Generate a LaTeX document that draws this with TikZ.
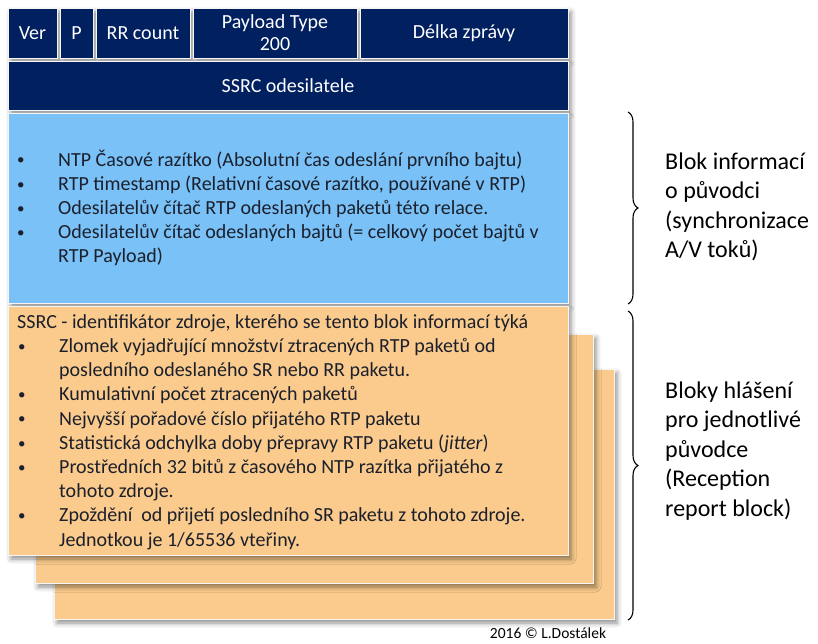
\documentclass[tikz,border=0pt]{standalone}
\usepackage{fontspec}
\setmainfont{Carlito}
\usetikzlibrary{shadows.blur,decorations.pathreplacing}
\definecolor{navy}{RGB}{0,32,96}
\definecolor{skyfill}{RGB}{121,193,246}
\definecolor{sandfill}{RGB}{250,203,140}
\definecolor{bodyink}{RGB}{28,32,44}
% bullet with hanging indent
\newcommand\bitem{\makebox[42pt][l]{\hspace*{1pt}\raisebox{1.2pt}{\fontsize{15}{15}\selectfont\textbullet}}}
\newcommand\bcont{\hspace*{42pt}}
\begin{document}
\begin{tikzpicture}[x=1pt,y=-1pt,
  softshadow/.style={blur shadow={shadow xshift=3pt, shadow yshift=-4pt,
      shadow blur radius=5pt, shadow opacity=45}},
  field/.style={fill=navy, draw=white!92!gray, line width=0.8pt, text=white,
      inner sep=0pt, align=center, softshadow,
      font=\fontsize{20}{22}\selectfont},
  panel/.style={draw=white!92!gray, line width=0.8pt, inner sep=0pt, softshadow},
  bodytext/.style={anchor=west, align=left, text=bodyink, inner sep=0pt,
      font=\fontsize{20}{24.2}\selectfont},
  sidetext/.style={anchor=west, align=left, text=black, inner sep=0pt,
      font=\fontsize{24}{29.5}\selectfont},
  bracket/.style={decorate, decoration={brace, amplitude=10pt}, line width=1.1pt}
]
\useasboundingbox (0,0) rectangle (818,643);

% header fields
\node[field, minimum width=49pt, minimum height=50pt] (ver)  at (32.5,33) {Ver};
\node[field, minimum width=33pt, minimum height=50pt] (pbit) at (76.5,33) {P};
\node[field, minimum width=94pt, minimum height=50pt] (rrc)  at (143,33)  {RR count};
\node[field, minimum width=164pt, minimum height=50pt] (ptype) at (275,33) {Payload Type\\200};
\node[field, minimum width=208pt, minimum height=50pt] (len)  at (464,33)  {Délka zprávy};
\node[field, minimum width=560pt, minimum height=49pt] (ssrc) at (288,85.5) {SSRC odesilatele};

% sender information block
\node[panel, fill=skyfill, minimum width=560pt, minimum height=190pt] (sender) at (288,208) {};
\node[bodytext] (sendertext) at (16,208) {%
\bitem NTP Časové razítko (Absolutní čas odeslání prvního bajtu)\\
\bitem RTP timestamp (Relativní časové razítko, používané v RTP)\\
\bitem Odesilatelův čítač RTP odeslaných paketů této relace.\\
\bitem Odesilatelův čítač odeslaných bajtů (= celkový počet bajtů v\\
\bcont RTP Payload)};

% stacked reception report blocks
\node[panel, fill=sandfill, minimum width=560pt, minimum height=250pt] (rep3) at (334,494) {};
\node[panel, fill=sandfill, minimum width=558pt, minimum height=249pt] (rep2) at (314,458.5) {};
\node[panel, fill=sandfill, minimum width=560pt, minimum height=249pt] (rep1) at (288,430.5) {};
\node[bodytext] (reptext) at (17,432) {%
SSRC - identifikátor zdroje, kterého se tento blok informací týká\\
\bitem Zlomek vyjadřující množství ztracených RTP paketů od\\
\bcont posledního odeslaného SR nebo RR paketu.\\
\bitem Kumulativní počet ztracených paketů\\
\bitem Nejvyšší pořadové číslo přijatého RTP paketu\\
\bitem Statistická odchylka doby přepravy RTP paketu (\textit{jitter})\\
\bitem Prostředních 32 bitů z časového NTP razítka přijatého z\\
\bcont tohoto zdroje.\\
\bitem Zpoždění~ od přijetí posledního SR paketu z tohoto zdroje.\\
\bcont Jednotkou je 1/65536 vteřiny.};

% braces and their labels
\coordinate (b1t) at (628,112);
\coordinate (b1b) at (628,304);
\coordinate (b2t) at (628,311);
\coordinate (b2b) at (628,620);
\draw[bracket] (b1t) -- (b1b);
\draw[bracket] (b2t) -- (b2b);

\node[sidetext] (senderlabel) at (665,207) {Blok informací\\o původci\\(synchronizace\\A/V toků)};
\node[sidetext] (replabel) at (665,451) {Bloky hlášení\\pro jednotlivé\\původce\\(Reception\\report block)};

\node[text=black, inner sep=0pt, font=\fontsize{15.5}{17}\selectfont] (credit) at (548,633) {2016 © L.Dostálek};
\end{tikzpicture}
\end{document}
